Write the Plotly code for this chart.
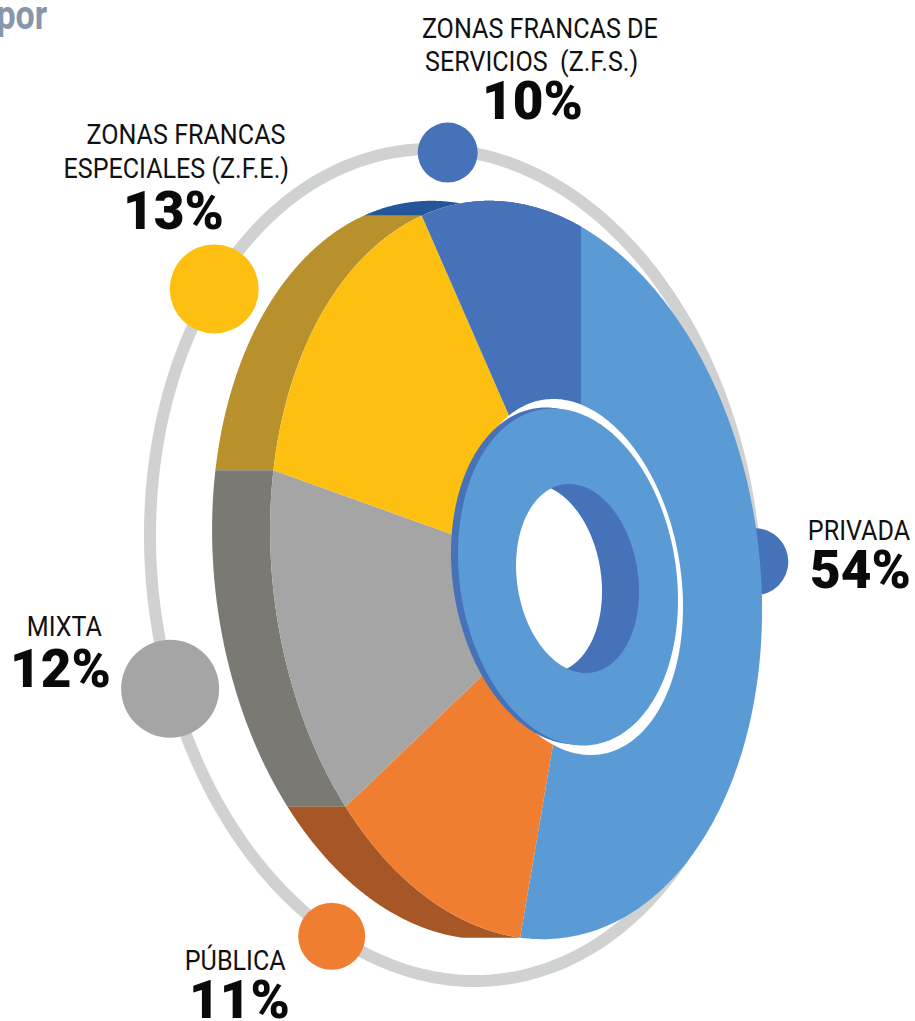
import numpy as np
import plotly.graph_objects as go

# ---- data (clockwise from the top of the disc) ----
categories = ["PRIVADA", "PÚBLICA", "MIXTA", "ZONAS FRANCAS ESPECIALES (Z.F.E.)", "ZONAS FRANCAS DE SERVICIOS (Z.F.S.)"]
shares = [54, 11, 12, 13, 10]
label_lines = [["PRIVADA"], ["PÚBLICA"], ["MIXTA"],
               ["ZONAS FRANCAS", "ESPECIALES (Z.F.E.)"],
               ["ZONAS FRANCAS DE", "SERVICIOS  (Z.F.S.)"]]

# ---- styles ----
face_colors = ["#5B9BD5", "#F07E30", "#A5A5A5", "#FDC010", "#4672B9"]
wall_colors = [None, "#A65725", "#7B7A72", "#B8912D", "#24569B"]
bubble_colors = ["#4672B9", "#F07E30", "#A5A5A5", "#FDC010", "#4672B9"]
bubble_diam = [67, 67, 98, 89, 60]
bubble_ring_deg = [85, -156.4, -111, -52, -1]
RING = "#D0D2D1"

# ---- projection of the tilted disc ----
CX, CY, RX, OFF, PERSP, RY, SHEAR, DEPTH = 516, 570, 246, 65, 0.264, 354, 0.163, 58


def project(phi):
    u, v = np.sin(phi), -np.cos(phi)
    w = 1 + PERSP * u
    x = (RX * u + OFF) / w
    y = RY * v / w + SHEAR * x
    return CX + x, CY + y


def ellipse(cx, cy, rx, ry, k, n=360):
    t = np.linspace(0, 2 * np.pi, n + 1)
    return cx + rx * np.sin(t), cy - np.sqrt(ry ** 2 - k ** 2) * np.cos(t) + k * np.sin(t)


fig = go.Figure()


def fill(x, y, color):
    fig.add_trace(go.Scatter(x=list(x), y=list(y), mode="lines", fill="toself", fillcolor=color,
                             line=dict(width=0, color=color, simplify=False), hoverinfo="skip", showlegend=False))


# orbit ring
ring_cx, ring_cy, ring_rx, ring_ry, ring_k = 453, 565, 303, 416, 30
rx_pts, ry_pts = ellipse(ring_cx, ring_cy, ring_rx, ring_ry, ring_k)
fig.add_trace(go.Scatter(x=rx_pts, y=ry_pts, mode="lines", line=dict(color=RING, width=12, simplify=False),
                         hoverinfo="skip", showlegend=False))

# bubbles sitting on the ring
t = np.radians(bubble_ring_deg)
fig.add_trace(go.Scatter(
    x=ring_cx + ring_rx * np.sin(t),
    y=ring_cy + 3 - np.sqrt(ring_ry ** 2 - ring_k ** 2) * np.cos(t) + ring_k * np.sin(t),
    mode="markers", marker=dict(size=bubble_diam, color=bubble_colors, opacity=1, line=dict(width=0)),
    hoverinfo="text", text=categories, showlegend=False))

# slices
edges = np.radians(np.cumsum([0] + shares) * 3.6)
arcs = [np.linspace(edges[i], edges[i + 1], 200) for i in range(len(shares))]

for i in reversed(range(len(shares))):
    if wall_colors[i] is None:
        continue
    ax, ay = project(arcs[i])
    fill(np.r_[ax, (ax - DEPTH)[::-1]], np.r_[ay, ay[::-1]], wall_colors[i])

apex_x, apex_y = CX + OFF, CY + SHEAR * OFF
for i in range(len(shares)):
    ax, ay = project(arcs[i])
    fill(np.r_[apex_x, ax], np.r_[apex_y, ay], face_colors[i])

# hub: white rim, dark edge, light face
fill(*ellipse(572, 577, 111, 178, 30), "#FFFFFF")
fill(*ellipse(561, 576, 110, 168.5, 23), "#4672B9")
fill(*ellipse(568, 577, 110, 168.5, 23), "#5B9BD5")

# hole: dark inside wall and the white see-through lens
hx, hy = ellipse(577.5, 578.5, 61.5, 94.5, 13)
fill(hx, hy, "#4672B9")
SHIFT = 37


def inside(x, y):
    dx = (x - 577.5) / 61.5
    m = np.sqrt(94.5 ** 2 - 13 ** 2)
    dy = (y - 578.5 - 13 * dx) / m
    return dx ** 2 + dy ** 2 <= 1


keep_a = inside(hx - SHIFT, hy)
keep_b = inside(hx + SHIFT, hy)
lx = np.r_[(hx - SHIFT)[keep_a], hx[keep_b]]
ly = np.r_[hy[keep_a], hy[keep_b]]
order = np.argsort(np.arctan2(ly - ly.mean(), lx - lx.mean()))
fill(lx[order], ly[order], "#FFFFFF")

# ---- text ----
NAME_FONT = dict(family="Roboto", size=27, color="#111111")
PCT_FONT = dict(family="Roboto", size=53, color="#0A0A0A", weight=900)

# (x centre of each name line, y of each name line, x centre of percent, y of percent)
label_pos = [
    ([859], [531], 860.5, 570),
    ([235.5], [960], 239.5, 1000),
    ([64], [627], 60.5, 669),
    ([185.5, 176.5], [135, 169], 173, 211),
    ([539.5, 531], [29, 62], 532, 101),
]
for lines, pct, pos in zip(label_lines, shares, label_pos):
    xs, ys, px, py = pos
    for ln, xx, yy in zip(lines, xs, ys):
        fig.add_annotation(x=xx, y=yy, text=ln, showarrow=False, xanchor="center", yanchor="middle", font=NAME_FONT)
    fig.add_annotation(x=px, y=py, text=f"{pct}%", showarrow=False, xanchor="center", yanchor="middle", font=PCT_FONT)

fig.add_annotation(x=22, y=15, text="por", showarrow=False, xanchor="center", yanchor="middle",
                   font=dict(family="Roboto", size=40, color="#8797AB", weight=700))

fig.update_layout(width=915, height=1021, margin=dict(l=0, r=0, t=0, b=0),
                  paper_bgcolor="white", plot_bgcolor="white",
                  xaxis=dict(range=[0, 915], visible=False, fixedrange=True),
                  yaxis=dict(range=[1021, 0], visible=False, fixedrange=True))

# the reference's labels are set in a condensed cut: narrow the regular glyphs to match
NARROW = """
document.body.style.margin='0';document.body.style.overflow='hidden';
document.querySelectorAll('.annotation-text').forEach(function(el){
  var fs=parseFloat(el.style.fontSize);
  var f=(fs===27)?0.93:((fs===40)?0.85:1);
  if(f<1){el.setAttribute('textLength',el.getComputedTextLength()*f);el.setAttribute('lengthAdjust','spacingAndGlyphs');}
});
"""
fig.write_html("out.html", config=dict(displayModeBar=False), post_script=NARROW)
